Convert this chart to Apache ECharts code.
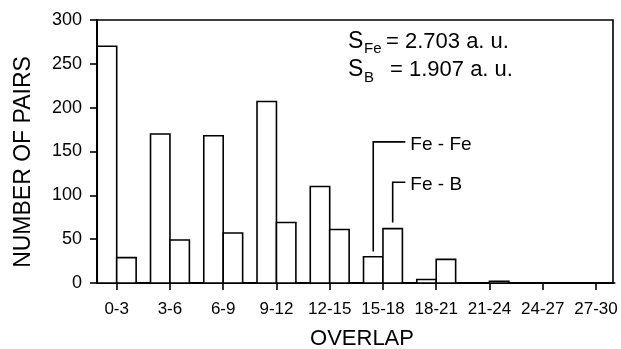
<!DOCTYPE html>
<html>
<head>
<meta charset="utf-8">
<script src="https://cdn.jsdelivr.net/npm/echarts@6/dist/echarts.min.js"></script>
<style>
html,body{margin:0;padding:0;background:#fff;}
#chart{width:621px;height:349px;}
</style>
</head>
<body>
<div id="chart"></div>
<script>
// ---- data ----
const categories = ['0-3','3-6','6-9','9-12','12-15','15-18','18-21','21-24','24-27','27-30'];
const feFe = [270, 170, 168, 207, 110, 30, 4, 0, 0, 0];
const feB  = [29, 49, 57, 69, 61, 62, 27, 2, 0, 0];
const yTicks = [0, 50, 100, 150, 200, 250, 300];
const leaderLabels = ['Fe - Fe', 'Fe - B'];
const leaderCat = [5, 5];            // category the leader points to
const leaderSide = [-1, 1];          // -1 = Fe-Fe bar, +1 = Fe-B bar
const leaderBottom = [36, 69];
const leaderTop = [161, 115];
const leaderEnd = [5.42, 5.42];
const sFe = '= 2.703 a. u.';
const sB = '= 1.907 a. u.';

const FONT = 'Liberation Sans';
const BW = 0.365; // bar width in category units

function barSeries(values, side) {
  return {
    type: 'custom',
    coordinateSystem: 'cartesian2d',
    data: values.map((v, i) => [i, v]),
    encode: {x: 0, y: 1},
    clip: false,
    z: 3,
    renderItem: function (params, api) {
      const i = api.value(0), v = api.value(1);
      const xa = side < 0 ? i - BW : i;
      const xb = side < 0 ? i : i + BW;
      const p0 = api.coord([xa, v]);
      const p1 = api.coord([xb, 0]);
      return {
        type: 'rect',
        shape: {x: p0[0], y: p0[1], width: p1[0] - p0[0], height: p1[1] - p0[1]},
        style: {fill: '#fff', stroke: '#000', lineWidth: 1.6}
      };
    }
  };
}

const leaderData = leaderLabels.map((l, k) => [leaderCat[k] + leaderSide[k] * BW / 2, leaderBottom[k], leaderTop[k], leaderEnd[k], k]);

const chart = echarts.init(document.getElementById('chart'), null, {renderer: 'canvas'});
chart.setOption({
  animation: false,
  backgroundColor: '#fff',
  grid: {
    left: 97, right: 8, top: 20, bottom: 66,
    containLabel: false, outerBoundsMode: 'none',
    show: true, borderColor: '#000', borderWidth: 1.6, backgroundColor: 'transparent'
  },
  xAxis: {
    type: 'value',
    min: -0.37, max: 9.32,
    splitLine: {show: false},
    axisLine: {show: true, onZero: false, lineStyle: {color: '#000', width: 2}},
    axisTick: {show: true, inside: false, length: 7, lineStyle: {color: '#000', width: 1.6},
      customValues: categories.map((c, i) => i)},
    axisLabel: {show: true, margin: 18, color: '#000', fontFamily: FONT, fontSize: 17,
      customValues: categories.map((c, i) => i),
      formatter: v => categories[Math.round(v)]}
  },
  yAxis: {
    type: 'value',
    min: 0, max: 300, interval: 50,
    splitLine: {show: false},
    axisLine: {show: true, onZero: false, lineStyle: {color: '#000', width: 2}},
    axisTick: {show: true, inside: false, length: 7, lineStyle: {color: '#000', width: 1.6}},
    axisLabel: {margin: 15, color: '#000', fontFamily: FONT, fontSize: 18,
      formatter: v => yTicks.indexOf(v) >= 0 ? String(v) : ''}
  },
  series: [
    barSeries(feFe, -1),
    barSeries(feB, 1),
    {
      type: 'custom',
      coordinateSystem: 'cartesian2d',
      data: leaderData,
      encode: {x: 0, y: 1},
      clip: false,
      z: 5,
      renderItem: function (params, api) {
        const x = api.value(0), yb = api.value(1), yt = api.value(2), xe = api.value(3), k = api.value(4);
        const a = api.coord([x, yb]), b = api.coord([x, yt]), c = api.coord([xe, yt]);
        return {
          type: 'group',
          children: [
            {type: 'polyline', shape: {points: [a, b, c]}, style: {fill: null, stroke: '#000', lineWidth: 1.6}},
            {type: 'text', x: c[0] + 5, y: c[1] + 3,
              style: {text: leaderLabels[k], font: '19px ' + FONT, fill: '#000', align: 'left', verticalAlign: 'middle'}}
          ]
        };
      }
    }
  ],
  graphic: [
    {type: 'text', x: 24, y: 162, rotation: Math.PI / 2,
      style: {text: 'NUMBER OF PAIRS', font: '23px ' + FONT, fill: '#000', align: 'center', verticalAlign: 'middle'}},
    {type: 'text', x: 362, y: 339,
      style: {text: 'OVERLAP', font: '22px ' + FONT, fill: '#000', align: 'center', verticalAlign: 'middle'}},
    {type: 'text', x: 348, y: 42, style: {text: 'S', font: '23px ' + FONT, fill: '#000', align: 'left', verticalAlign: 'middle'}},
    {type: 'text', x: 364, y: 49, style: {text: 'Fe', font: '15px ' + FONT, fill: '#000', align: 'left', verticalAlign: 'middle'}},
    {type: 'text', x: 386, y: 42, style: {text: sFe, font: '22px ' + FONT, fill: '#000', align: 'left', verticalAlign: 'middle'}},
    {type: 'text', x: 348, y: 70, style: {text: 'S', font: '23px ' + FONT, fill: '#000', align: 'left', verticalAlign: 'middle'}},
    {type: 'text', x: 364, y: 78, style: {text: 'B', font: '15px ' + FONT, fill: '#000', align: 'left', verticalAlign: 'middle'}},
    {type: 'text', x: 390, y: 70, style: {text: sB, font: '22px ' + FONT, fill: '#000', align: 'left', verticalAlign: 'middle'}}
  ]
});
</script>
</body>
</html>
